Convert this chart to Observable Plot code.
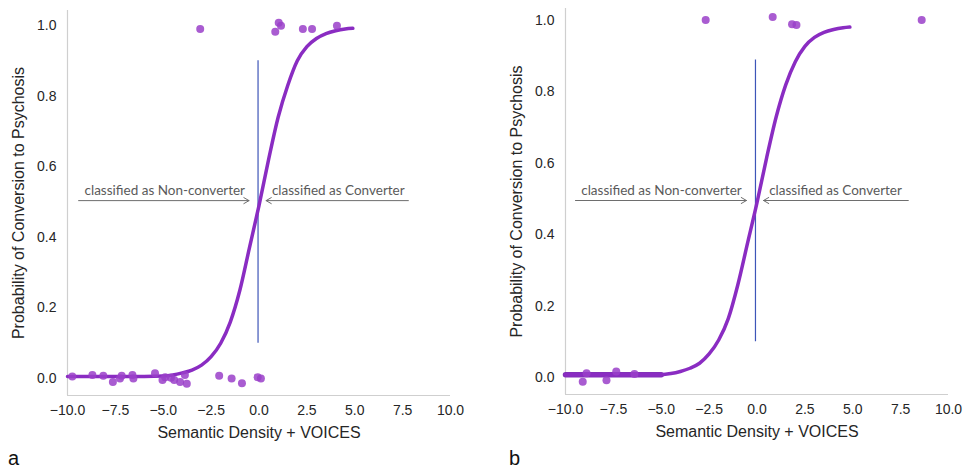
<!DOCTYPE html>
<html>
<head>
<meta charset="utf-8">
<script src="https://cdn.jsdelivr.net/npm/d3@7"></script>
<script src="https://cdn.jsdelivr.net/npm/@observablehq/plot@0.6"></script>
<style>
  html, body { margin: 0; padding: 0; background: #fff; }
  #wrap { position: relative; width: 963px; height: 471px; overflow: hidden; }
  .panel { position: absolute; top: 0; }
  .tag { position: absolute; font-family: "Liberation Sans", Arial, sans-serif; font-size: 20px; color: #111; }
</style>
</head>
<body>
<div id="wrap">
  <div class="panel" id="pa" style="left:0px"></div>
  <div class="panel" id="pb" style="left:482px"></div>
  <div class="tag" style="left:8px; top:447px">a</div>
  <div class="tag" style="left:509px; top:447px">b</div>
</div>
<script>
// ---- data ----
const xTicks = [-10, -7.5, -5, -2.5, 0, 2.5, 5, 7.5, 10];
const yTicks = [0, 0.2, 0.4, 0.6, 0.8, 1.0];
const xTitle = "Semantic Density + VOICES";
const yTitle = "Probability of Conversion to Psychosis";
const leftLabel = "classified as Non-converter";
const rightLabel = "classified as Converter";

// panel a observations
const aPointX = [-9.75, -8.7, -8.13, -7.63, -7.26, -7.17, -6.61, -6.56, -5.43, -5.04, -4.9, -4.6, -4.43, -4.12, -3.87, -3.77,
                 -2.08, -1.43, -0.89, -0.07, 0.1,
                 -3.07, 0.85, 1.03, 1.15, 2.29, 2.77, 4.07];
const aPointY = [0.006, 0.01, 0.008, -0.01, 0.0, 0.008, 0.01, 0.0, 0.015, -0.004, 0.004, 0.002, -0.004, -0.01, 0.01, -0.015,
                 0.008, 0.0, -0.013, 0.004, 0.0,
                 0.99, 0.982, 1.008, 0.999, 0.99, 0.99, 0.999];
// panel a fitted curve
const aCurveX = [-10, -9, -8, -7, -6, -5, -4.5, -4, -3.5, -3, -2.5, -2, -1.5, -1, -0.5, 0, 0.5, 1, 1.5, 2, 2.5, 3, 3.5, 4, 4.5, 4.9];
const aCurveY = [0.006, 0.006, 0.006, 0.006, 0.006, 0.007, 0.01, 0.016, 0.024, 0.038, 0.062, 0.1, 0.16, 0.25, 0.37, 0.49, 0.62, 0.74, 0.83, 0.9, 0.94, 0.963, 0.977, 0.985, 0.99, 0.992];

// panel b observations
const bPointX = [-9.1, -8.9, -7.86, -7.35, -6.4, -2.68, 0.82, 1.83, 2.06, 8.6];
const bPointY = [-0.012, 0.012, -0.008, 0.017, 0.01, 1.002, 1.01, 0.99, 0.988, 1.002];
// panel b fitted curve
const bCurveX = [-10, -9, -8, -7, -6, -5, -4.5, -4, -3.5, -3, -2.5, -2, -1.5, -1, -0.5, 0, 0.5, 1, 1.5, 2, 2.5, 3, 3.5, 4, 4.5, 4.85];
const bCurveY = [0.008, 0.008, 0.008, 0.008, 0.008, 0.008, 0.011, 0.017, 0.026, 0.04, 0.066, 0.105, 0.165, 0.26, 0.375, 0.49, 0.615, 0.73, 0.82, 0.885, 0.928, 0.953, 0.967, 0.975, 0.98, 0.982];
const bFlatX = [-10, -5];
const bFlatY = [0.008, 0.008];

// annotations (data units)
const aCut = {x: -0.05, y1: 0.1, y2: 0.9};
const bCut = {x: -0.08, y1: 0.1, y2: 0.89};
const aArrows = [{x1: -9.42, x2: -0.52, y: 0.504}, {x1: 7.8, x2: 0.37, y: 0.504}];
const bArrows = [{x1: -9.48, x2: -0.55, y: 0.496}, {x1: 7.9, x2: 0.34, y: 0.496}];
const aLabels = [{x: -4.92, y: 0.532, t: leftLabel}, {x: 4.14, y: 0.532, t: rightLabel}];
const bLabels = [{x: -4.99, y: 0.524, t: leftLabel}, {x: 4.1, y: 0.524, t: rightLabel}];

const fmt = d3.format(".1f");
const zip = (xs, ys) => xs.map((x, i) => ({x, y: ys[i]}));

function panel(cfg) {
  const [y0, y1] = cfg.yDomain;
  return Plot.plot({
    width: cfg.width,
    height: 440,
    marginLeft: cfg.ml,
    marginRight: cfg.mr,
    marginTop: cfg.mt,
    marginBottom: cfg.mb,
    x: {domain: [-10, 10]},
    y: {domain: [y0, y1]},
    style: {fontFamily: "'Liberation Sans', Arial, sans-serif", fontSize: "14px", color: "#262626", background: "white", overflow: "visible"},
    marks: [
      Plot.ruleX([-10], {stroke: "#cfcfcf", strokeWidth: 1.2}),
      Plot.ruleY([y0], {stroke: "#cfcfcf", strokeWidth: 1.2}),
      Plot.axisX({ticks: xTicks, tickSize: 0, tickPadding: 10, tickFormat: fmt, label: null, fontSize: 14}),
      Plot.axisY({ticks: yTicks, tickSize: 0, tickPadding: 11, tickFormat: fmt, label: null, fontSize: 14}),
      Plot.text([xTitle], {frameAnchor: "bottom", lineAnchor: "middle", textAnchor: "middle", dy: 37, fontSize: 16, fill: "#262626"}),
      Plot.text([yTitle], {frameAnchor: "left", textAnchor: "middle", lineAnchor: "middle", rotate: -90, dx: -49, fontSize: 16, fill: "#262626"}),
      Plot.ruleX([cfg.cut], {x: "x", y1: "y1", y2: "y2", stroke: "#3d55b8", strokeWidth: 1.2}),
      Plot.arrow(cfg.arrows, {x1: "x1", x2: "x2", y1: "y", y2: "y", stroke: "#6e6e6e", strokeWidth: 1, headLength: 9, bend: 0}),
      Plot.text(cfg.labels, {x: "x", y: "y", text: "t", fontFamily: "Lato, 'Open Sans', sans-serif", fontSize: 13.5, fill: "#5a5a5a"}),
      ...(cfg.flat ? [Plot.line(cfg.flat, {x: "x", y: "y", stroke: "#8230b8", strokeWidth: 5.5})] : []),
      Plot.line(cfg.curve, {x: "x", y: "y", curve: "monotone-x", stroke: "#8a2cc2", strokeWidth: 3.5}),
      Plot.dot(cfg.points, {x: "x", y: "y", r: 4, fill: "#9a3fc9", fillOpacity: 0.85, stroke: "none"})
    ]
  });
}

document.getElementById("pa").append(panel({
  width: 482, ml: 67, mr: 32, mt: 10, mb: 45,
  yDomain: [-0.048, 1.0425],
  points: zip(aPointX, aPointY),
  curve: zip(aCurveX, aCurveY),
  cut: aCut, arrows: aArrows, labels: aLabels
}));

document.getElementById("pb").append(panel({
  width: 481, ml: 83, mr: 15, mt: 8, mb: 46,
  yDomain: [-0.0476, 1.034],
  points: zip(bPointX, bPointY),
  curve: zip(bCurveX, bCurveY),
  flat: zip(bFlatX, bFlatY),
  cut: bCut, arrows: bArrows, labels: bLabels
}));
</script>
</body>
</html>
